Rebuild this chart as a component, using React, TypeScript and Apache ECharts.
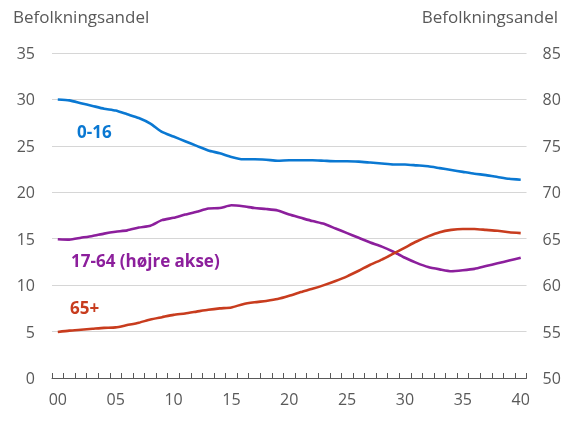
import React, { useEffect, useRef } from "react";
import * as echarts from "echarts";

const years: string[] = Array.from({ length: 41 }, (_, i) => String(i).padStart(2, "0"));

const age0to16: number[] = [
  30.0, 29.9, 29.6, 29.3, 29.0, 28.8, 28.4, 28.0, 27.4, 26.5,
  26.0, 25.5, 25.0, 24.5, 24.2, 23.8, 23.55, 23.55, 23.5, 23.4,
  23.45, 23.45, 23.45, 23.4, 23.35, 23.35, 23.3, 23.2, 23.1, 23.0,
  23.0, 22.9, 22.8, 22.6, 22.4, 22.2, 22.0, 21.85, 21.65, 21.45, 21.35,
];

const age17to64: number[] = [
  64.95, 64.9, 65.1, 65.3, 65.55, 65.75, 65.9, 66.2, 66.4, 67.0,
  67.25, 67.6, 67.9, 68.25, 68.3, 68.6, 68.5, 68.3, 68.2, 68.05,
  67.6, 67.25, 66.9, 66.6, 66.1, 65.6, 65.1, 64.6, 64.15, 63.6,
  62.95, 62.4, 61.95, 61.7, 61.5, 61.6, 61.75, 62.05, 62.35, 62.65, 62.95,
];

const age65plus: number[] = [
  4.95, 5.1, 5.2, 5.3, 5.4, 5.45, 5.7, 5.95, 6.3, 6.55,
  6.8, 6.95, 7.15, 7.35, 7.5, 7.6, 7.95, 8.15, 8.3, 8.5,
  8.85, 9.25, 9.6, 10.0, 10.45, 10.95, 11.55, 12.2, 12.75, 13.4,
  14.05, 14.7, 15.25, 15.7, 15.95, 16.05, 16.05, 15.95, 15.85, 15.7, 15.6,
];

const axisTitle = "Befolkningsandel";
const FONT = "'Open Sans', Lato, sans-serif";
const TEXT = "#595959";
const BLUE = "#0a78d2";
const PURPLE = "#8c1f9c";
const RED = "#c83c1e";

export default function App() {
  const ref = useRef<HTMLDivElement>(null);
  useEffect(() => {
    if (!ref.current) return;
    const chart = echarts.init(ref.current, null, { renderer: "svg" });
    chart.setOption({
      animation: false,
      grid: { left: 52, right: 39.5, top: 53, bottom: 58, containLabel: false },
      xAxis: {
        type: "category",
        data: years,
        boundaryGap: true,
        axisLine: { show: true, lineStyle: { color: "#595959", width: 1 } },
        axisTick: { show: true, inside: true, length: 5, interval: 0, lineStyle: { color: "#595959" } },
        axisLabel: {
          interval: 4,
          color: TEXT,
          fontFamily: FONT,
          fontSize: 16,
          margin: 13,
        },
        splitLine: { show: false },
      },
      yAxis: [
        {
          type: "value",
          min: 0,
          max: 35,
          interval: 5,
          axisLine: { show: false },
          axisTick: { show: false },
          axisLabel: { color: TEXT, fontFamily: FONT, fontSize: 16, margin: 17 },
          splitLine: { show: true, lineStyle: { color: "#d6d6d6", width: 1.2 } },
        },
        {
          type: "value",
          min: 50,
          max: 85,
          interval: 5,
          position: "right",
          axisLine: { show: false },
          axisTick: { show: false },
          axisLabel: { color: TEXT, fontFamily: FONT, fontSize: 16, margin: 16 },
          splitLine: { show: false },
        },
      ],
      series: [
        {
          name: "0-16",
          type: "line",
          data: age0to16,
          yAxisIndex: 0,
          symbol: "none",
          smooth: 0.2,
          lineStyle: { color: BLUE, width: 2.6 },
        },
        {
          name: "17-64 (højre akse)",
          type: "line",
          data: age17to64,
          yAxisIndex: 1,
          symbol: "none",
          smooth: 0.2,
          lineStyle: { color: PURPLE, width: 2.6 },
        },
        {
          name: "65+",
          type: "line",
          data: age65plus,
          yAxisIndex: 0,
          symbol: "none",
          smooth: 0.2,
          lineStyle: { color: RED, width: 2.6 },
        },
      ],
      graphic: [
        {
          type: "text",
          left: 13,
          top: 8,
          style: { text: axisTitle, fill: TEXT, font: `17px ${FONT}` },
        },
        {
          type: "text",
          right: 8,
          top: 8,
          style: { text: axisTitle, fill: TEXT, font: `17px ${FONT}` },
        },
        {
          type: "text",
          left: 77,
          top: 123,
          style: { text: "0-16", fill: BLUE, font: `bold 17px ${FONT}` },
        },
        {
          type: "text",
          left: 71,
          top: 252,
          style: { text: "17-64 (højre akse)", fill: PURPLE, font: `bold 17px ${FONT}` },
        },
        {
          type: "text",
          left: 70,
          top: 299,
          style: { text: "65+", fill: RED, font: `bold 17px ${FONT}` },
        },
      ],
    });
    return () => chart.dispose();
  }, []);
  return (
    <div
      ref={ref}
      style={{ position: "fixed", left: 0, top: 0, width: 566, height: 436 }}
    />
  );
}
